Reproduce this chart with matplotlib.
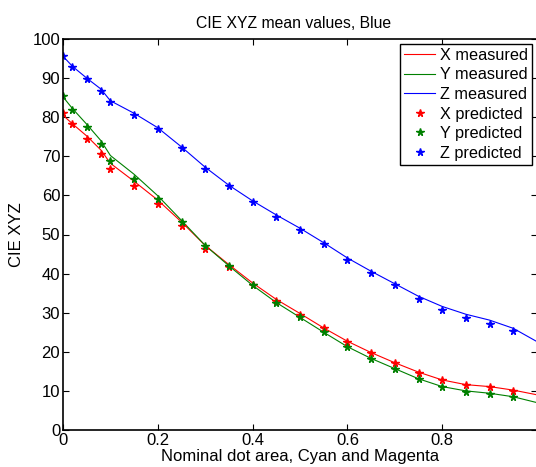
import numpy as np
import matplotlib
matplotlib.use("Agg")
import matplotlib.pyplot as plt

plt.rcParams['font.family'] = ['Liberation Sans', 'DejaVu Sans']

# measured curves (nominal dot area incl. 1.0)
x_meas = [0, 0.02, 0.05, 0.08, 0.1, 0.15, 0.2, 0.25, 0.3, 0.35, 0.4, 0.45,
          0.5, 0.55, 0.6, 0.65, 0.7, 0.75, 0.8, 0.85, 0.9, 0.95, 1.0]
X_meas = [80.5, 78.3, 75.2, 71.6, 68.2, 63.6, 58.8, 53.2, 47.2, 42.3, 37.6, 33.4,
          29.8, 26.1, 22.7, 19.8, 17.2, 14.8, 12.8, 11.6, 11.1, 10.2, 9.0]
Y_meas = [85.2, 82.2, 78.2, 74.0, 70.2, 65.4, 59.9, 53.6, 47.2, 42.0, 37.0, 32.6,
          28.8, 25.0, 21.3, 18.3, 15.7, 13.1, 11.1, 10.0, 9.4, 8.5, 7.0]
Z_meas = [95.6, 93.0, 90.0, 87.2, 84.2, 81.0, 77.3, 72.4, 67.2, 62.6, 58.6, 55.0,
          51.6, 47.9, 44.0, 40.6, 37.4, 34.2, 31.6, 29.6, 28.1, 26.0, 22.6]

# predicted values
x_pred = [0, 0.02, 0.05, 0.08, 0.1, 0.15, 0.2, 0.25, 0.3, 0.35, 0.4, 0.45,
          0.5, 0.55, 0.6, 0.65, 0.7, 0.75, 0.8, 0.85, 0.9, 0.95]
X_pred = [81.0, 78.2, 74.4, 70.5, 66.7, 62.3, 57.7, 52.2, 46.4, 41.7, 37.2, 33.0,
          29.5, 26.0, 22.5, 19.7, 17.1, 14.7, 12.7, 11.5, 11.1, 10.1]
Y_pred = [85.3, 81.8, 77.5, 73.2, 68.9, 64.3, 59.2, 53.3, 47.0, 41.9, 37.1, 32.6,
          29.0, 25.0, 21.2, 18.2, 15.6, 13.0, 11.0, 9.8, 9.2, 8.4]
Z_pred = [95.6, 92.8, 89.8, 86.8, 83.8, 80.6, 77.0, 72.1, 66.8, 62.5, 58.4, 54.6,
          51.2, 47.5, 43.6, 40.2, 37.0, 33.6, 30.7, 28.6, 27.2, 25.4]

fig = plt.figure(figsize=(5.36, 4.67), dpi=100)
ax = fig.add_axes([63/536, 37/467, 474/536, 391/467])

ax.plot(x_meas, X_meas, color='red', lw=0.8, label='X measured')
ax.plot(x_meas, Y_meas, color='green', lw=0.8, label='Y measured')
ax.plot(x_meas, Z_meas, color='blue', lw=0.8, label='Z measured')
ax.plot(x_pred, X_pred, '*', color='red', ms=5.5, label='X predicted')
ax.plot(x_pred, Y_pred, '*', color='green', ms=5.5, label='Y predicted')
ax.plot(x_pred, Z_pred, '*', color='blue', ms=5.5, label='Z predicted')

ax.set_xlim(0, 1)
ax.set_ylim(0, 100)
# the tick at 1 sits on the cropped right edge, its label is not shown
ax.set_xticks([0, 0.2, 0.4, 0.6, 0.8, 1.0])
ax.set_xticklabels(['0', '0.2', '0.4', '0.6', '0.8', ''])
ax.set_yticks(np.arange(0, 101, 10))
ax.tick_params(direction='in', top=True, right=True, length=4, labelsize=12, pad=2)
for s in ax.spines.values():
    s.set_linewidth(1.2)

ax.set_title('CIE XYZ mean values, Blue', fontsize=11.3, x=0.486, pad=8)
ax.set_xlabel('Nominal dot area, Cyan and Magenta', fontsize=12, labelpad=1)
ax.set_ylabel('CIE XYZ', fontsize=12, labelpad=6)

leg = ax.legend(loc='upper right', fontsize=11.7, fancybox=False, framealpha=1,
                edgecolor='black', borderaxespad=0.3, handlelength=1.9,
                labelspacing=0.28, borderpad=0.25, handletextpad=0.3)
leg.get_frame().set_linewidth(1.0)

fig.savefig('out.png', dpi=100)
